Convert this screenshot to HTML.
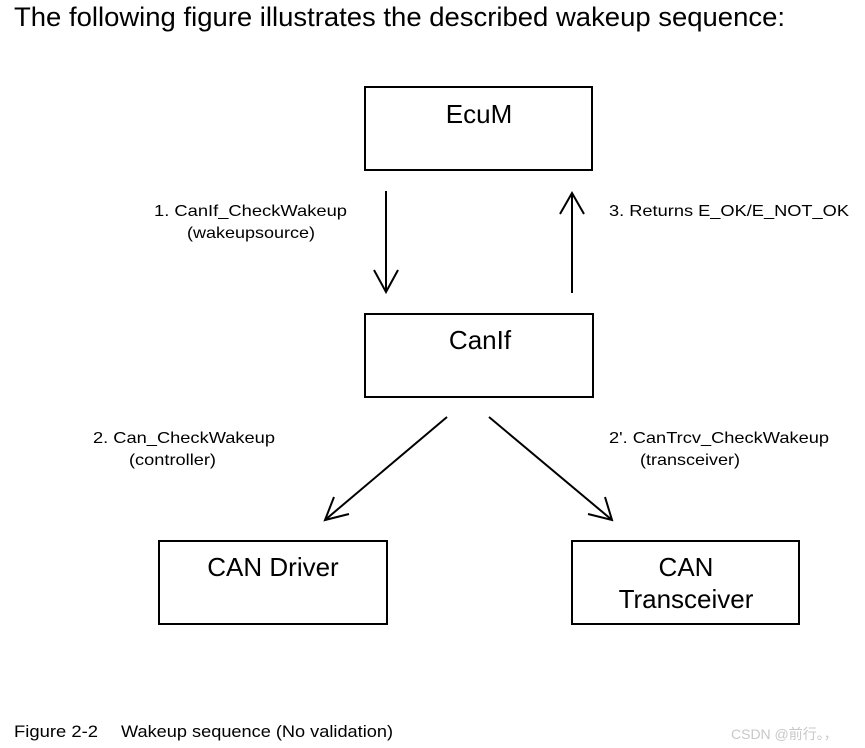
<!DOCTYPE html>
<html><head><meta charset="utf-8"><style>
html,body{margin:0;padding:0;background:#fff;width:865px;height:748px;overflow:hidden}
svg{display:block}
text{font-family:"Liberation Sans","Noto Sans CJK SC",sans-serif;fill:#000}
</style></head><body>
<svg width="865" height="748" viewBox="0 0 865 748">
<text x="14" y="26" font-size="26.5" textLength="771" lengthAdjust="spacingAndGlyphs">The following figure illustrates the described wakeup sequence:</text>
<g fill="none" stroke="#000" stroke-width="2">
<rect x="365" y="87" width="227" height="83"/>
<rect x="365" y="314" width="228" height="83"/>
<rect x="159" y="541" width="228" height="83"/>
<rect x="572" y="541" width="227" height="83"/>
<line x1="386" y1="191" x2="386" y2="292"/>
<polyline points="374,270 386,292 398,270"/>
<line x1="572" y1="194" x2="572" y2="293"/>
<polyline points="560,214 572,193 584,214"/>
<line x1="447" y1="417" x2="325" y2="520"/>
<polyline points="334,497 325,520 349,514"/>
<line x1="489" y1="417" x2="612" y2="520"/>
<polyline points="605,497 612,520 588,514"/>
</g>
<g font-size="26" text-anchor="middle">
<text x="479" y="123">EcuM</text>
<text x="480" y="349">CanIf</text>
<text x="273" y="576">CAN Driver</text>
<text x="686" y="576">CAN</text>
<text x="686" y="608">Transceiver</text>
</g>
<g font-size="16">
<text x="154" y="216" textLength="193" lengthAdjust="spacingAndGlyphs">1. CanIf_CheckWakeup</text>
<text x="187" y="238" textLength="128" lengthAdjust="spacingAndGlyphs">(wakeupsource)</text>
<text x="609" y="216" textLength="240" lengthAdjust="spacingAndGlyphs">3. Returns E_OK/E_NOT_OK</text>
<text x="93" y="443" textLength="182" lengthAdjust="spacingAndGlyphs">2. Can_CheckWakeup</text>
<text x="129" y="465" textLength="87" lengthAdjust="spacingAndGlyphs">(controller)</text>
<text x="609" y="443" textLength="220" lengthAdjust="spacingAndGlyphs">2'. CanTrcv_CheckWakeup</text>
<text x="640" y="465" textLength="100" lengthAdjust="spacingAndGlyphs">(transceiver)</text>
</g>
<text x="14" y="737" font-size="17" textLength="84" lengthAdjust="spacingAndGlyphs">Figure 2-2</text>
<text x="121" y="737" font-size="17" textLength="272" lengthAdjust="spacingAndGlyphs">Wakeup sequence (No validation)</text>
<text x="731" y="739" font-size="14" style="fill:#c8c8c8">CSDN @前行。，</text>
</svg>
</body></html>
